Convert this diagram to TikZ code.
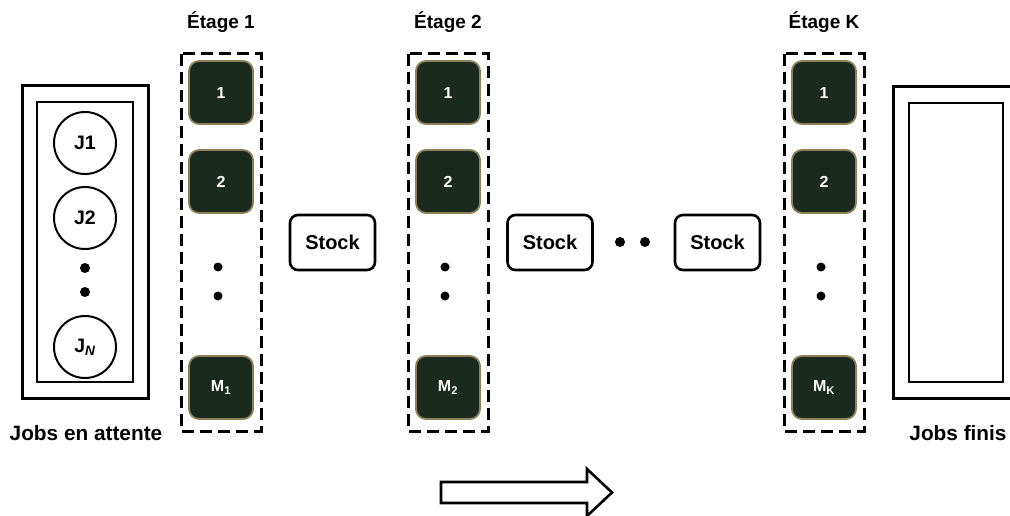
\documentclass[tikz,border=0pt]{standalone}
\usepackage{fontspec}
\setmainfont{Liberation Sans}
\begin{document}
\begin{tikzpicture}[x=1pt,y=-1pt,
  lbl/.style={font=\fontsize{19}{22}\selectfont\bfseries, inner sep=0pt},
  joblbl/.style={font=\fontsize{20.8}{24}\selectfont\bfseries, inner sep=0pt},
  stage/.style={draw=black, line width=3pt, dash pattern=on 12pt off 6pt},
  machine/.style={draw=mborder, fill=mfill, line width=1.8pt, rounded corners=10pt,
    minimum width=64pt, minimum height=63pt, inner sep=0pt, text=white,
    font=\fontsize{16}{19}\selectfont\bfseries},
  stock/.style={draw=black, line width=2.6pt, rounded corners=8pt,
    minimum width=85pt, minimum height=55pt, inner sep=0pt,
    font=\fontsize{20}{24}\selectfont\bfseries},
  job/.style={circle, draw=black, line width=2pt, minimum size=62pt, inner sep=0pt,
    font=\fontsize{19.5}{22}\selectfont\bfseries},
  frame/.style={draw=black, line width=3pt},
  dot/.style={circle, fill=black, minimum size=10pt, inner sep=0pt}]
\definecolor{mfill}{HTML}{1B2A1E}
\definecolor{mborder}{HTML}{8E8158}
\useasboundingbox (0,0) rectangle (1010,516);

% waiting jobs
\draw[frame] (22,86) rectangle (148,398);
\draw[line width=2.6pt] (37,102) rectangle (133,382);
\node[job] (j1) at (85,143) {J1};
\node[job] (j2) at (85,218) {J2};
\node[dot] (jd1) at (85,268) {};
\node[dot] (jd2) at (85,292) {};
\node[job] (jn) at (85,347) {J\textsubscript{\textit{N}}};
\node[joblbl] (wait) at (86,433) {Jobs en attente};

% stages
\foreach \id/\x/\lab/\last in {s1/221/1/1, s2/448/2/2, sk/824/K/K}{
  \draw[stage] (\x-40,54) rectangle (\x+40,431);
  \node[lbl] (\id-title) at (\x,22) {Étage \lab};
  \node[machine] (\id-m1) at (\x,92.5) {1};
  \node[machine] (\id-m2) at (\x,181.5) {2};
  \node[dot, minimum size=9pt] (\id-d1) at (\x-3,267) {};
  \node[dot, minimum size=9pt] (\id-d2) at (\x-3,296) {};
  \node[machine] (\id-mm) at (\x,387.5) {M\textsubscript{\last}};
}

% buffers
\node[stock] (b1) at (332.5,242.5) {Stock};
\node[stock] (b2) at (550,242.5) {Stock};
\node[dot] (bd1) at (620,242) {};
\node[dot] (bd2) at (645,242) {};
\node[stock] (b3) at (717.5,242.5) {Stock};

% finished jobs
\draw[frame] (893,87) rectangle (1030,398);
\draw[line width=2.6pt] (909,103) rectangle (1003,382);
\node[joblbl] (done) at (958,433) {Jobs finis};

% flow direction
\draw[line width=2.6pt, fill=white, line join=miter]
  (441,482) -- (587,482) -- (587,469) -- (612,492.5) -- (587,516) -- (587,503) -- (441,503) -- cycle;
\end{tikzpicture}
\end{document}
